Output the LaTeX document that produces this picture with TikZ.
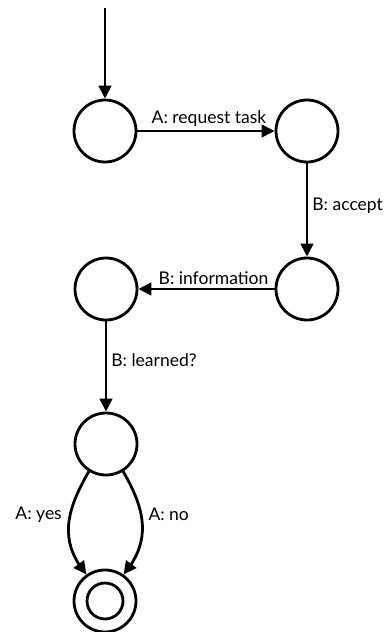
\documentclass[tikz,border=0pt]{standalone}
\usepackage{fontspec}
\setmainfont{Lato}
\usetikzlibrary{arrows.meta,bending}
\begin{document}
\begin{tikzpicture}[x=1pt,y=-1pt,
  state/.style={circle,draw,line width=2.8pt,minimum size=62pt,inner sep=0pt},
  trans/.style={line width=2.8pt,-{Triangle[length=13pt,width=12.5pt,flex]}},
  lbl/.style={font=\fontsize{17.5}{21}\selectfont,inner sep=2pt}]
\useasboundingbox (0,0) rectangle (388,632);
\coordinate (start) at (105,8);
\node[state] (s1) at (105,131) {};
\node[state] (s2) at (307,131) {};
\node[state] (s3) at (307,289) {};
\node[state] (s4) at (106,289) {};
\node[state] (s5) at (106,444) {};
\node[state] (f) at (105,601) {};
\node[circle,draw,line width=2.8pt,minimum size=36pt,inner sep=0pt] (fin) at (f) {};
\draw[trans] (start) -- (s1);
\draw[trans] (s1) -- node[lbl,above,yshift=1pt,xshift=3pt] {A: request task} (s2);
\draw[trans] (s2) -- node[lbl,right,xshift=2pt,pos=0.45] {B: accept} (s3);
\draw[trans] (s3) -- node[lbl,above,yshift=1pt,xshift=7pt] {B: information} (s4);
\draw[trans] (s4) -- node[lbl,right,xshift=2pt,pos=0.43] {B: learned?} (s5);
\draw[trans] (s5.238) to[out=-120,in=130,looseness=1.1] node[lbl,left,xshift=-5pt,pos=0.4] {A: yes} (f.125);
\draw[trans] (s5.302) to[out=-60,in=50,looseness=1.1] node[lbl,right,xshift=4pt,pos=0.4] {A: no} (f.55);
\end{tikzpicture}
\end{document}
